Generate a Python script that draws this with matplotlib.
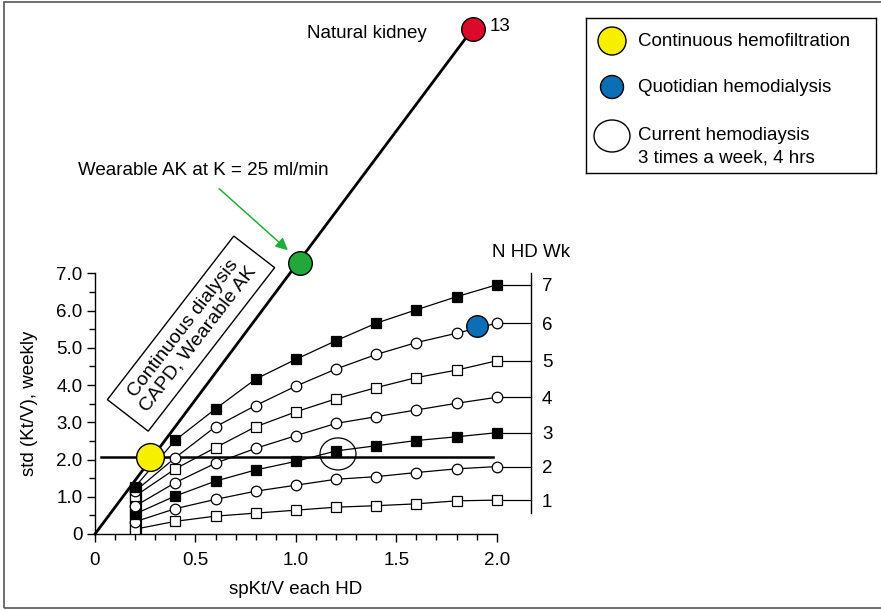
import matplotlib
matplotlib.use("Agg")
import matplotlib.pyplot as plt
from matplotlib.patches import Ellipse, Rectangle

plt.rcParams["font.family"] = ["Liberation Sans", "DejaVu Sans"]
plt.rcParams["font.size"] = 13.5

# spKt/V por sessão e std Kt/V semanal para N sessões por semana
X_HD = [0.2, 0.4, 0.6, 0.8, 1.0, 1.2, 1.4, 1.6, 1.8, 2.0]
N1 = [0.13, 0.34, 0.48, 0.56, 0.64, 0.72, 0.76, 0.81, 0.89, 0.91]
N2 = [0.33, 0.68, 0.93, 1.15, 1.31, 1.47, 1.54, 1.65, 1.75, 1.81]
N3 = [0.54, 1.02, 1.42, 1.72, 1.95, 2.23, 2.37, 2.51, 2.61, 2.72]
N4 = [0.75, 1.38, 1.90, 2.30, 2.64, 2.97, 3.15, 3.33, 3.51, 3.67]
N5 = [1.02, 1.75, 2.32, 2.88, 3.28, 3.63, 3.93, 4.20, 4.40, 4.65]
N6 = [1.15, 2.05, 2.88, 3.45, 3.97, 4.43, 4.82, 5.14, 5.39, 5.66]
N7 = [1.27, 2.52, 3.36, 4.16, 4.69, 5.19, 5.66, 6.02, 6.37, 6.69]
CURVAS = [N1, N2, N3, N4, N5, N6, N7]
ROTULOS_N = ["1", "2", "3", "4", "5", "6", "7"]
MARCADORES = [("s", "white"), ("o", "white"), ("s", "black"), ("o", "white"),
              ("s", "white"), ("o", "white"), ("s", "black")]

# pontos especiais
RIM = (1.88, 13.56)          # natural kidney
WAK = (1.02, 7.28)           # wearable AK
HEMOFILTRACAO = (0.274, 2.06)
QUOTIDIANA = (1.90, 5.59)
ATUAL = (1.21, 2.15)
NIVEL_ATUAL = 2.07
EIXO_DIREITO = 2.17

fig = plt.figure(figsize=(8.81, 6.10), dpi=100)
ax = fig.add_axes([95 / 881, 76 / 610, 482 / 881, 521.4 / 610])
ax.set_xlim(0, 2.4)
ax.set_ylim(0, 14)

# diagonal contínua -> rim natural
ax.plot([0, RIM[0]], [0, RIM[1]], color="black", lw=2.0, zorder=2, clip_on=False)
ax.plot(*RIM, "o", ms=17, mfc="#dc0a2a", mec="black", mew=1, zorder=5, clip_on=False)
ax.plot(*WAK, "o", ms=17, mfc="#22a83a", mec="black", mew=1, zorder=5)

# coluna em spKt/V = 0.2
ax.add_patch(Rectangle((0.181, 0), 0.046, 1.35, fill=False, ec="black", lw=1.6, zorder=3))

for ys, (m, fc) in zip(CURVAS, MARCADORES):
    ax.plot([X_HD[-1], EIXO_DIREITO], [ys[-1], ys[-1]], color="black", lw=0.9, zorder=3)
    ax.plot(X_HD, ys, color="black", lw=0.9, marker=m, ms=6.8 if m == "s" else 7.6,
            mfc=fc, mec="black", mew=0.9, zorder=4)

ax.plot([0.03, 1.98], [NIVEL_ATUAL, NIVEL_ATUAL], color="black", lw=1.8, zorder=3)
ax.plot(*HEMOFILTRACAO, "o", ms=20, mfc="#f7ef00", mec="black", mew=1, zorder=6)
ax.plot(*QUOTIDIANA, "o", ms=15.5, mfc="#0b6fb8", mec="black", mew=1, zorder=6)
ax.add_patch(Ellipse(ATUAL, 36 / 200.8, 32 / 37.24, fill=False, ec="black", lw=0.9, zorder=6))

# caixa girada "Continuous dialysis"
ax.text(0.478, 5.38, "  Continuous dialysis  \nCAPD, Wearable AK", rotation=52.3,
        ha="center", va="center", multialignment="center", fontsize=14, linespacing=1.1,
        bbox=dict(boxstyle="square,pad=0.42", fc="none", ec="black", lw=1.0))

ax.text(1.653, 13.45, "Natural kidney", ha="right", va="center")
ax.text(1.967, 13.62, "13", ha="left", va="center")
ax.text(-0.085, 9.75, "Wearable AK at K = 25 ml/min", ha="left", va="center", clip_on=False)
ax.annotate("", xy=(0.971, 7.57), xytext=(0.608, 9.32),
            arrowprops=dict(arrowstyle="-|>", color="#1fae38", lw=1.1, mutation_scale=18))
ax.text(EIXO_DIREITO, 7.55, "N HD Wk", ha="center", va="center")

# eixos
ax.spines["top"].set_visible(False)
ax.spines["left"].set_bounds(0, 7)
ax.spines["bottom"].set_bounds(0, 2.0)
ax.spines["right"].set_position(("data", EIXO_DIREITO))
ax.spines["right"].set_bounds(0.56, 7.0)
for s in ax.spines.values():
    s.set_linewidth(1.0)

ax.set_yticks(range(8))
ax.set_yticklabels(["0"] + [f"{v:.1f}" for v in range(1, 8)])
ax.set_yticks([v + 0.5 for v in range(7)], minor=True)
ax.set_xticks([0, 0.5, 1.0, 1.5, 2.0])
ax.set_xticklabels(["0", "0.5", "1.0", "1.5", "2.0"])
ax.set_xticks([i / 10 for i in range(21) if i % 5], minor=True)
ax.tick_params(axis="both", which="major", direction="out", length=6, width=1)
ax.tick_params(axis="both", which="minor", direction="out", length=4, width=1)
ax.tick_params(axis="x", pad=7)
ax.tick_params(axis="y", pad=3)

direita = ax.twinx()
direita.set_ylim(ax.get_ylim())
for lado in ("top", "left", "bottom", "right"):
    direita.spines[lado].set_visible(False)
direita.set_yticks([c[-1] for c in CURVAS])
direita.set_yticklabels(ROTULOS_N)
direita.tick_params(axis="y", length=0, pad=-(482 - (EIXO_DIREITO / 2.4) * 482) / 100 * 72 + 8)

ax.set_xlabel("spKt/V each HD", va="center")
ax.xaxis.set_label_coords(1.0 / 2.4, -56 / 521.4)
ax.set_ylabel("std (Kt/V), weekly", va="center")
ax.yaxis.set_label_coords(-65 / 482, 3.5 / 14)

# legenda
lax = fig.add_axes([586 / 881, (610 - 173) / 610, 290 / 881, 155 / 610])
lax.set_xlim(0, 290)
lax.set_ylim(155, 0)
lax.set_xticks([])
lax.set_yticks([])
for s in lax.spines.values():
    s.set_linewidth(1.0)
lax.add_patch(Ellipse((26, 23), 28, 28, fc="#f7ef00", ec="black", lw=1))
lax.add_patch(Ellipse((26, 69), 23, 23, fc="#0b6fb8", ec="black", lw=1))
lax.add_patch(Ellipse((26, 118), 36, 32, fc="white", ec="black", lw=1))
lax.text(52, 23, "Continuous hemofiltration", va="center")
lax.text(52, 70, "Quotidian hemodialysis", va="center")
lax.text(52, 118, "Current hemodiaysis", va="center")
lax.text(52, 140, "3 times a week, 4 hrs", va="center")

fig.add_artist(Rectangle((4 / 881, 2 / 610), 1.0, 606 / 610, transform=fig.transFigure,
                         fill=False, ec="#555555", lw=1.2))

fig.savefig("out.png", dpi=100, facecolor="white")
